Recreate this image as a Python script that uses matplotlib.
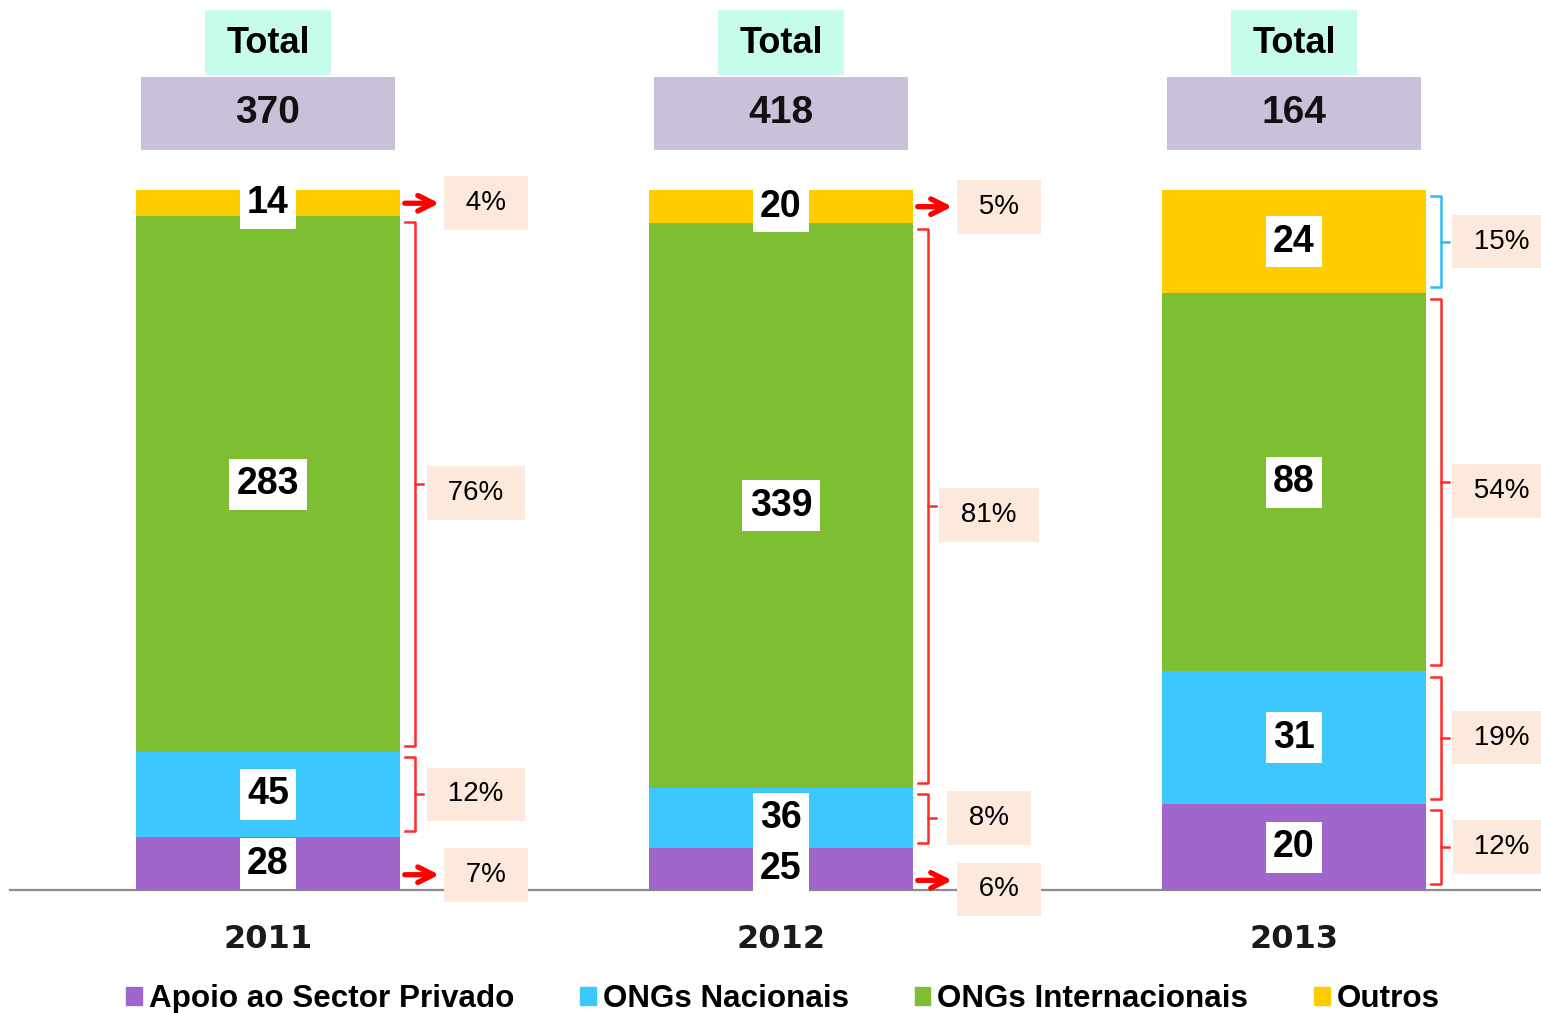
import numpy as np
import matplotlib
matplotlib.use("Agg")
import matplotlib.pyplot as plt
from matplotlib.patches import Rectangle, Patch

# dados (valores absolutos e percentagens tal como aparecem no gráfico)
ANOS          = ["2011", "2012", "2013"]
CATEGORIAS    = ["Apoio ao Sector Privado", "ONGs Nacionais",
                 "ONGs Internacionais", "Outros"]
PRIVADO        = [28, 25, 20]
NACIONAIS      = [45, 36, 31]
INTERNACIONAIS = [283, 339, 88]
OUTROS         = [14, 20, 24]
TOTAIS         = [370, 418, 164]

PCT_PRIVADO        = [7, 6, 12]
PCT_NACIONAIS      = [12, 8, 19]
PCT_INTERNACIONAIS = [76, 81, 54]
PCT_OUTROS         = [4, 5, 15]

CORES = ["#A066CC", "#3CC8FF", "#7DBE32", "#FFCC00"]

FONTE = "Liberation Sans"

# escala: 1 unidade x = 513 px, 1 % = 7 px
PX = 1 / 513
PY = 1 / 7
W = 264 * PX

fig = plt.figure(figsize=(15.41, 10.13), dpi=100)
ax = fig.add_axes([0, 0, 1, 1])
ax.set_xlim(-268 * PX, (1541 - 268) * PX)
ax.set_ylim(-123 * PY, 890 * PY)
ax.axis("off")

x = np.arange(len(ANOS))
series = [PRIVADO, NACIONAIS, INTERNACIONAIS, OUTROS]
pcts = [PCT_PRIVADO, PCT_NACIONAIS, PCT_INTERNACIONAIS, PCT_OUTROS]
soma = np.sum(np.array(series, dtype=float), axis=0)   # barras a 100%

ax.axhline(0, xmin=10 / 1541, color="#8c8c8c", lw=1.6, zorder=1)

bottom = np.zeros(len(ANOS))
for k, (s, pct, cor) in enumerate(zip(series, pcts, CORES)):
    share = np.array(s) / soma * 100
    ax.bar(x, share, W, bottom=bottom, color=cor, zorder=2)
    for i in range(len(ANOS)):
        mid = bottom[i] + share[i] / 2
        ax.text(x[i], mid, str(s[i]), ha="center", va="center",
                fontsize=27, weight="bold", family=FONTE, zorder=5,
                bbox=dict(boxstyle="square,pad=0.2", fc="white", ec="none"))
        right = x[i] + W / 2
        yl = mid
        if pct[i] < 8:
            # seta para segmentos pequenos
            ya = mid - 1.6 if k == 0 else mid
            ax.annotate("", xy=(right + 42 * PX, ya), xytext=(right + 2 * PX, ya),
                        arrowprops=dict(arrowstyle="->", color="#FF0000", lw=3.8,
                                        mutation_scale=28), zorder=4)
            xl = right + 86 * PX
            if k == 0:
                yl = mid - 1.6 - 1.3 * i
        else:
            # chaveta
            cor_ch = "#33BBEE" if (k == 3 and i == 2) else "#FF2a2a"
            y0 = bottom[i] + 0.8
            y1 = bottom[i] + share[i] - 0.8
            xa, xv, xt = right + 5 * PX, right + 15 * PX, right + 23 * PX
            ax.plot([xa, xv, xv, xa], [y1, y1, y0, y0], color=cor_ch, lw=1.8, zorder=3)
            ax.plot([xv, xt], [mid, mid], color=cor_ch, lw=1.8, zorder=3)
            xl = right + 76 * PX
            if k == 2:
                yl = mid - 1.3
        ax.text(xl, yl, f" {pct[i]}% ", ha="center", va="center",
                fontsize=20, family=FONTE, zorder=5,
                bbox=dict(boxstyle="square,pad=0.5", fc="#FCE9DC", ec="none"))
    bottom += share

# caixas do total
for i in range(len(ANOS)):
    ax.add_patch(Rectangle((x[i] - 63 * PX, (890 - 75) * PY), 126 * PX, 65 * PY,
                           fc="#C6FCEC", ec="none", zorder=2))
    ax.text(x[i], (890 - 43) * PY, "Total", ha="center", va="center",
            fontsize=26, weight="bold", family=FONTE, zorder=3)
    ax.add_patch(Rectangle((x[i] - 127 * PX, (890 - 150) * PY), 254 * PX, 73 * PY,
                           fc="#CBC0DA", ec="none", zorder=2))
    ax.text(x[i], (890 - 113) * PY, str(TOTAIS[i]), ha="center", va="center",
            fontsize=28, weight="bold", family=FONTE, zorder=3, color="#111111")
    ax.text(x[i], -49 * PY, ANOS[i], ha="center", va="center",
            fontsize=23, weight="bold", family="DejaVu Sans", color="#1a1a1a")

handles = [Patch(color=c, label=n) for c, n in zip(CORES, CATEGORIAS)]
fig.legend(handles=handles, loc="center", bbox_to_anchor=(783 / 1541, 1 - 999 / 1013),
           ncol=4, frameon=False, handlelength=0.5, handleheight=0.5,
           handletextpad=0.22, columnspacing=2.1, borderaxespad=0,
           prop=dict(family=FONTE, weight="bold", size=22.6))

fig.savefig("out.png", dpi=100)
